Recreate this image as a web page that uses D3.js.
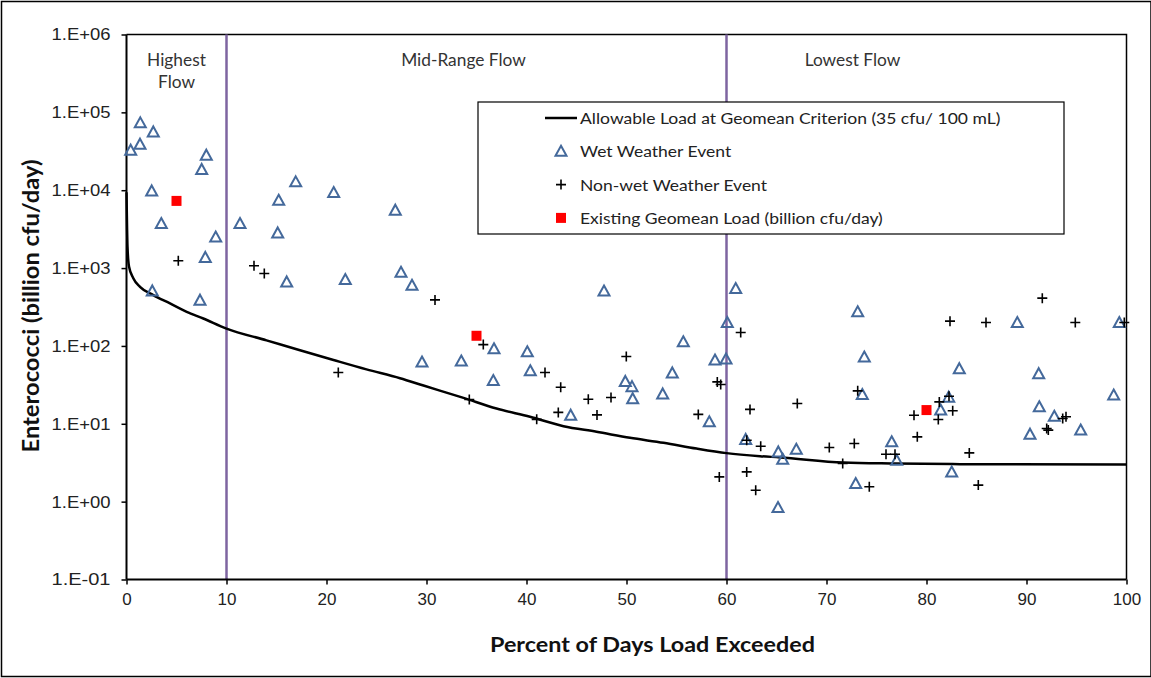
<!DOCTYPE html>
<html>
<head>
<meta charset="utf-8">
<script src="https://cdn.jsdelivr.net/npm/d3@7"></script>
<style>
  body { margin: 0; background: #fff; }
  svg { display: block; }
</style>
</head>
<body>
<div id="chart"></div>
<script>
// curve: allowable load at geomean criterion
const allowX = [0, 0.1, 0.25, 0.68, 1.35, 2.68, 4.35, 6.02, 7.68, 10, 14, 17.35, 20.7, 24, 27.35, 29.7, 33.7, 37, 40.35, 43.7, 47, 50.35, 53.7, 57, 60, 63.35, 65.35, 71.7, 76.7, 83.35, 100];
const allowY = [9400, 1870, 1050, 740, 573, 449, 351, 274, 225, 167, 118, 88, 66, 50, 38.5, 31, 21.5, 15.7, 12.3, 9.3, 7.9, 6.6, 5.7, 4.8, 4.2, 3.84, 3.7, 3.18, 3.09, 3.03, 3.0];

// wet weather events
const wetX = [0.42, 1.35, 1.38, 2.68, 2.52, 3.48, 7.98, 7.52, 8.92, 7.88, 2.58, 7.35, 11.35, 15.22, 15.12, 16.92, 16.02, 20.72, 21.88, 26.88, 27.45, 28.55, 29.55, 33.48, 36.75, 36.68, 40.08, 40.38, 44.42, 47.75, 49.88, 50.55, 50.62, 53.62, 54.58, 55.68, 58.85, 59.95, 58.28, 60.08, 60.92, 61.92, 65.18, 65.15, 65.62, 66.98, 72.92, 73.12, 73.78, 73.58, 76.52, 77.02, 81.42, 82.22, 82.52, 83.28, 89.08, 90.35, 91.22, 91.28, 92.78, 95.42, 98.72, 99.28];
const wetY = [32700, 39000, 73300, 56100, 9800, 3740, 28200, 18500, 2510, 1370, 509, 387, 3740, 7440, 2830, 12800, 664, 9350, 713, 5540, 885, 600, 62, 64, 92, 36, 84, 48, 12.9, 506, 35, 30, 21, 24.2, 45, 113, 66, 68, 10.6, 200, 547, 6.3, 4.35, 0.84, 3.5, 4.7, 1.71, 274, 72, 23.8, 5.86, 3.4, 15, 22, 2.4, 51, 200, 7.35, 44, 16.5, 12.5, 8.3, 23.4, 200];

// non-wet weather events
const dryX = [5.18, 12.75, 13.78, 21.18, 30.85, 34.28, 35.68, 41.02, 41.85, 43.18, 43.42, 46.18, 47.05, 48.45, 49.98, 57.18, 59.08, 59.42, 59.28, 61.42, 62.35, 62.02, 62.02, 62.92, 63.42, 67.08, 70.28, 71.62, 72.78, 73.12, 74.28, 75.95, 76.85, 78.75, 79.08, 81.18, 81.28, 82.25, 82.35, 82.62, 84.28, 85.18, 85.95, 91.58, 92.02, 92.18, 93.62, 93.95, 94.88, 99.78];
const dryY = [1240, 1070, 850, 45.6, 390, 20.5, 104, 11.4, 45.6, 14, 29.5, 20.7, 13, 21.8, 73, 13.2, 34.5, 32, 2.08, 149, 15.3, 6.15, 2.41, 1.40, 5.15, 18.2, 4.97, 3.09, 5.58, 26.5, 1.55, 4.07, 4.07, 12.9, 6.8, 11.35, 19.1, 22.6, 208, 14.7, 4.23, 1.63, 200, 411, 8.7, 8.3, 11.7, 12.3, 200, 200];

// existing geomean load
const geoX = [5, 35, 80];
const geoY = [7290, 135, 15];

const xTicks = [0, 10, 20, 30, 40, 50, 60, 70, 80, 90, 100];
const yTicks = [0.1, 1, 10, 100, 1000, 10000, 100000, 1000000];
const yTickLabels = ["1.E-01", "1.E+00", "1.E+01", "1.E+02", "1.E+03", "1.E+04", "1.E+05", "1.E+06"];

const zoneBreaks = [10, 60];
const zoneLabels = [
  { x: 5, lines: ["Highest", "Flow"] },
  { x: 33.7, lines: ["Mid-Range Flow"] },
  { x: 72.6, lines: ["Lowest Flow"] }
];

const legendItems = [
  { type: "line", label: "Allowable Load at Geomean Criterion (35 cfu/ 100 mL)" },
  { type: "wet", label: "Wet Weather Event" },
  { type: "dry", label: "Non-wet Weather Event" },
  { type: "geo", label: "Existing Geomean Load (billion cfu/day)" }
];

const W = 1151, H = 678;
const margin = { top: 34.5, right: 24.5, bottom: 98.5, left: 126.5 };
const width = W - margin.left - margin.right;
const height = H - margin.top - margin.bottom;

const triColor = "#44699b";
const zoneColor = "#7e65a0";
const calibri = "Lato, 'Open Sans', sans-serif";

const svgEl = d3.select("#chart").append("svg")
  .attr("width", W)
  .attr("height", H);

// outer frame
svgEl.append("rect")
  .attr("x", 1.5).attr("y", 1.5)
  .attr("width", W - 1.5).attr("height", H - 3)
  .attr("fill", "#fff")
  .attr("stroke", "#000")
  .attr("stroke-width", 1.5);

const svg = svgEl.append("g")
  .attr("transform", `translate(${margin.left},${margin.top})`);

const x = d3.scaleLinear().domain([0, 100]).range([0, width]);
const y = d3.scaleLog().domain([0.1, 1e6]).range([height, 0]);

// plot border (top + right)
svg.append("path")
  .attr("d", `M0,0H${width}V${height}`)
  .attr("fill", "none")
  .attr("stroke", "#000")
  .attr("stroke-width", 1.5);

// flow zone dividers
svg.selectAll("line.zone")
  .data(zoneBreaks)
  .enter().append("line")
  .attr("class", "zone")
  .attr("x1", d => x(d)).attr("x2", d => x(d))
  .attr("y1", 0).attr("y2", height)
  .attr("stroke", zoneColor)
  .attr("stroke-width", 2.5);

// zone labels (slightly widened like the original)
zoneLabels.forEach(z => {
  const t = svg.append("text")
    .attr("transform", `translate(${x(z.x)},31) scale(1.05,1)`)
    .attr("text-anchor", "middle")
    .attr("font-family", calibri)
    .attr("font-size", "16.5px")
    .attr("fill", "#333");
  z.lines.forEach((l, i) => {
    t.append("tspan").attr("x", 0).attr("dy", i === 0 ? 0 : 23).text(l);
  });
});

// axes
const gx = svg.append("g")
  .attr("transform", `translate(0,${height})`)
  .call(d3.axisBottom(x).tickValues(xTicks).tickSize(5).tickPadding(8).tickFormat(d3.format("d")));
const gy = svg.append("g")
  .call(d3.axisLeft(y).tickValues(yTicks).tickSize(5).tickPadding(11).tickFormat((d, i) => yTickLabels[i]));

[gx, gy].forEach(g => {
  g.select(".domain").attr("stroke", "#000").attr("stroke-width", 2);
  g.selectAll(".tick line").attr("stroke", "#000").attr("stroke-width", 1.5);
  g.selectAll(".tick text")
    .attr("font-family", "'Liberation Sans', Arial, sans-serif")
    .attr("font-size", "17px")
    .attr("fill", "#222");
});
gy.selectAll(".tick text")
  .attr("textLength", 59)
  .attr("lengthAdjust", "spacingAndGlyphs");
gx.select(".domain").attr("d", `M0,0H${width}`);
gy.select(".domain").attr("d", `M0,${height}V0`);

// axis titles
svg.append("text")
  .attr("x", width / 2 + 26)
  .attr("y", height + 72)
  .attr("text-anchor", "middle")
  .attr("font-family", calibri)
  .attr("font-weight", "bold")
  .attr("font-size", "20px")
  .attr("textLength", 325)
  .attr("lengthAdjust", "spacingAndGlyphs")
  .attr("fill", "#111")
  .text("Percent of Days Load Exceeded");

svg.append("text")
  .attr("transform", `translate(${39 - margin.left},${306 - margin.top}) rotate(-90)`)
  .attr("text-anchor", "middle")
  .attr("font-family", calibri)
  .attr("font-weight", "bold")
  .attr("font-size", "22px")
  .attr("textLength", 293)
  .attr("lengthAdjust", "spacingAndGlyphs")
  .attr("fill", "#111")
  .text("Enterococci (billion cfu/day)");

// allowable load curve
const allowData = allowX.map((v, i) => ({ x: v, y: allowY[i] }));
svg.append("path")
  .datum(allowData)
  .attr("fill", "none")
  .attr("stroke", "#000")
  .attr("stroke-width", 2.5)
  .attr("d", d3.line().x(d => x(d.x)).y(d => y(d.y)).curve(d3.curveMonotoneX));

const triPath = "M0,-5.5L5.5,4.5L-5.5,4.5Z";
const plusPath = "M-5,0H5M0,-5V5";

const wetData = wetX.map((v, i) => ({ x: v, y: wetY[i] }));
svg.selectAll("path.wet")
  .data(wetData)
  .enter().append("path")
  .attr("class", "wet")
  .attr("transform", d => `translate(${x(d.x)},${y(d.y)})`)
  .attr("d", triPath)
  .attr("fill", "none")
  .attr("stroke", triColor)
  .attr("stroke-width", 2);

const dryData = dryX.map((v, i) => ({ x: v, y: dryY[i] }));
svg.selectAll("path.dry")
  .data(dryData)
  .enter().append("path")
  .attr("class", "dry")
  .attr("transform", d => `translate(${x(d.x)},${y(d.y)})`)
  .attr("d", plusPath)
  .attr("fill", "none")
  .attr("stroke", "#000")
  .attr("stroke-width", 1.6);

const geoData = geoX.map((v, i) => ({ x: v, y: geoY[i] }));
svg.selectAll("rect.geo")
  .data(geoData)
  .enter().append("rect")
  .attr("class", "geo")
  .attr("x", d => x(d.x) - 5)
  .attr("y", d => y(d.y) - 5)
  .attr("width", 10)
  .attr("height", 10)
  .attr("fill", "#ff0000");

// legend
const legend = svgEl.append("g").attr("transform", "translate(478,102)");
legend.append("rect")
  .attr("width", 586)
  .attr("height", 132)
  .attr("fill", "#fff")
  .attr("stroke", "#000")
  .attr("stroke-width", 1.2);

legendItems.forEach((item, i) => {
  const cy = 16 + i * 33.3;
  const g = legend.append("g").attr("transform", `translate(0,${cy})`);
  if (item.type === "line") {
    g.append("line").attr("x1", 67).attr("x2", 99).attr("y1", 0).attr("y2", 0)
      .attr("stroke", "#000").attr("stroke-width", 2.5);
  } else if (item.type === "wet") {
    g.append("path").attr("transform", "translate(83,0)").attr("d", triPath)
      .attr("fill", "none").attr("stroke", triColor).attr("stroke-width", 2);
  } else if (item.type === "dry") {
    g.append("path").attr("transform", "translate(83,0)").attr("d", plusPath)
      .attr("fill", "none").attr("stroke", "#000").attr("stroke-width", 1.6);
  } else {
    g.append("rect").attr("x", 78).attr("y", -5).attr("width", 10).attr("height", 10)
      .attr("fill", "#ff0000");
  }
  g.append("text")
    .attr("transform", "translate(102,6) scale(1.095,1)")
    .attr("font-family", calibri)
    .attr("font-size", "16px")
    .attr("fill", "#222")
    .text(item.label);
});
</script>
</body>
</html>
